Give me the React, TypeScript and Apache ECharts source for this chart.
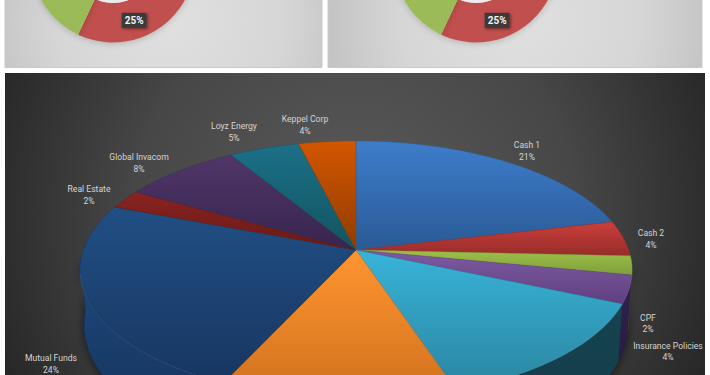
import React, { useEffect, useRef } from "react";
import * as echarts from "echarts";

// Donut fragments at the top (only the red and green slices are in frame)
const donutValues = [32, 25, 18, 25];
const donutColors = ["#4f81bd", "#c0504d", "#9bbb59", "#8064a2"];
const donutLabelIndex = 1;

// Main pie, clockwise from 12 o'clock
const pieNames = ["Cash 1", "Cash 2", "CPF", "Insurance Policies", "", "", "Mutual Funds", "Real Estate", "Global Invacom", "Loyz Energy", "Keppel Corp"];
const pieValues = [21.3, 4.45, 2.35, 3.5, 13.34, 11.96, 24, 2.4, 8.05, 4.8, 3.9];
const topLight = ["#3e7dcb", "#cb3f3b", "#9dc14a", "#7f5aa3", "#38b4d8", "#ff9530", "#214f84", "#8a2420", "#503669", "#1c7088", "#d45600"];
const topDark = ["#2a5a96", "#962c29", "#7f9e3a", "#5e4080", "#2a85a0", "#d0701e", "#173661", "#671917", "#37254e", "#125461", "#8f3c00"];
const wallLight = ["#1d3e68", "#6b1f1d", "#5a7029", "#31214f", "#16434f", "#9a5418", "#1d4a80", "#4a1311", "#281a38", "#0d3a44", "#672b00"];
const wallDark = ["#1d3e68", "#6b1f1d", "#5a7029", "#2a1c44", "#133a48", "#7f4412", "#142f55", "#4a1311", "#281a38", "#0d3a44", "#672b00"];

// Label anchors (layout only)
const labelPos: ([number, number] | null)[] = [[527, 151], [651, 239], [648, 323.5], [668, 351.5], null, null, [51, 364], [89, 195], [139, 163], [234, 132], [305, 125]];

const AX = 356, AY = 250, RX = 272.7, RY = 125.9, K = 0.155;
const WALL = 53, WALL_SX = 0.985, WALL_SY = 1.085;
const FRONT_A = 0.26, FRONT_B = 0.74;
const RIM_A = 0.28, RIM_B = 0.72;

const total = pieValues.reduce((a, b) => a + b, 0);
const startFrac = (i: number) => pieValues.slice(0, i).reduce((a, b) => a + b, 0) / total;

function rim(frac: number, lower = false): [number, number] {
  const t = frac * Math.PI * 2;
  const s = Math.sin(t);
  const v = -Math.cos(t);
  const d = 1 - K * v;
  return [
    AX + (RX * (lower ? WALL_SX : 1) * s) / d,
    AY + (lower ? WALL : 0) + (RY * (lower ? WALL_SY : 1) * v) / d,
  ];
}

function arcPoints(a: number, b: number, lower = false) {
  const n = Math.max(4, Math.ceil((b - a) * 240));
  const pts: [number, number][] = [];
  for (let j = 0; j <= n; j++) pts.push(rim(a + ((b - a) * j) / n, lower));
  return pts;
}

export default function App() {
  const ref = useRef<HTMLDivElement>(null);
  useEffect(() => {
    const chart = echarts.init(ref.current!, undefined, { renderer: "svg" });
    const light = (cx: number, r: number) => new echarts.graphic.RadialGradient(cx, 20, r, [
      { offset: 0, color: "#e0e0e0" }, { offset: 0.6, color: "#d6d6d6" }, { offset: 1, color: "#c2c2c2" },
    ], true);
    const donut = (cx: number) => ({
      type: "pie",
      z: 2,
      center: [cx, -39.5],
      radius: [42.5, 82],
      startAngle: 90,
      clockwise: true,
      avoidLabelOverlap: false,
      silent: true,
      labelLine: { show: false },
      label: { show: false },
      itemStyle: { shadowBlur: 6, shadowColor: "rgba(0,0,0,0.2)", shadowOffsetY: 1 },
      data: donutValues.map((v, i) => ({
        value: v,
        itemStyle: { color: donutColors[i] },
        label: i === donutLabelIndex ? {
          show: true, position: "inside", formatter: "{c}%", color: "#f2f2f2", offset: [-1, -1.5],
          fontFamily: "Roboto", fontWeight: "bold", fontSize: 10, lineHeight: 11,
          backgroundColor: "#3b3b3b", padding: [2, 3, 2, 3],
          shadowBlur: 3, shadowColor: "rgba(0,0,0,0.5)", shadowOffsetX: 1, shadowOffsetY: 1,
        } : { show: false },
      })),
    });
    const hole = (cx: number) => ({
      type: "circle", z: 3, shape: { cx, cy: -39.5, r: 42.5 }, style: { fill: "#ececec" },
    });
    chart.setOption({
      animation: false,
      backgroundColor: "#ffffff",
      graphic: [
        { type: "rect", z: 0, shape: { x: 5, y: -2, width: 317, height: 69.5 }, style: { fill: light(170, 190), stroke: "#c8c8c8", lineWidth: 1 } },
        { type: "rect", z: 0, shape: { x: 328, y: -2, width: 374, height: 69.5 }, style: { fill: light(520, 200), stroke: "#c8c8c8", lineWidth: 1 } },
        hole(113),
        hole(476),
        {
          type: "rect", z: 0, shape: { x: 5, y: 73, width: 700, height: 304 },
          style: { fill: new echarts.graphic.RadialGradient(355, 215, 400, [
            { offset: 0, color: "#5a5a5a" }, { offset: 0.55, color: "#474747" }, { offset: 1, color: "#242424" },
          ], true) },
        },
      ],
      series: [
        donut(113),
        donut(476),
        {
          // soft shadow below the whole front wall
          type: "custom", coordinateSystem: "none", z: 3, silent: true,
          data: [[total]],
          renderItem: () => ({
            type: "polygon",
            shape: { points: [...arcPoints(FRONT_A, FRONT_B), ...arcPoints(FRONT_A, FRONT_B, true).reverse()] },
            style: { fill: "#1a2a40", shadowBlur: 10, shadowColor: "rgba(0,0,0,0.6)", shadowOffsetY: 1 },
          }),
        },
        {
          type: "custom", coordinateSystem: "none", z: 3.5, silent: true,
          data: pieValues.map((v) => [v]),
          renderItem: (p: any) => {
            const i = p.dataIndex;
            const a = Math.max(startFrac(i), FRONT_A), b = Math.min(startFrac(i + 1), FRONT_B);
            if (b <= a) return null;
            return {
              type: "polygon",
              shape: { points: [...arcPoints(a, b), ...arcPoints(a, b, true).reverse()] },
              style: {
                fill: new echarts.graphic.LinearGradient(0, 0, 0, 1, [
                  { offset: 0, color: wallLight[i] }, { offset: 1, color: wallDark[i] },
                ]),
                stroke: wallDark[i], lineWidth: 0.4,
              },
            };
          },
        },
        {
          type: "custom", coordinateSystem: "none", z: 4, silent: true,
          data: pieValues.map((v) => [v]),
          renderItem: (p: any) => {
            const i = p.dataIndex;
            const a = startFrac(i), b = startFrac(i + 1);
            const ra = Math.max(a, RIM_A), rb = Math.min(b, RIM_B);
            const children: any[] = [
              {
                type: "polygon",
                shape: { points: [[AX, AY], ...arcPoints(a, b)] },
                style: {
                  fill: new echarts.graphic.LinearGradient(0, 0, 0, 1, [
                    { offset: 0, color: topLight[i] }, { offset: 1, color: topDark[i] },
                  ]),
                  stroke: topDark[i], lineWidth: 0.4,
                },
              },
            ];
            if (rb > ra) {
              children.push({
                type: "polyline",
                shape: { points: arcPoints(ra, rb) },
                style: { fill: "none", stroke: "rgba(255,255,255,0.13)", lineWidth: 0.8 },
              });
            }
            return { type: "group", children };
          },
        },
        {
          type: "custom", coordinateSystem: "none", z: 5, silent: true,
          data: pieValues.map((v) => [v]),
          renderItem: (p: any, api: any) => {
            const i = p.dataIndex;
            const pos = labelPos[i];
            if (!pos || !pieNames[i]) return null;
            return {
              type: "text",
              style: {
                x: pos[0], y: pos[1], text: `${pieNames[i]}\n${Math.round(api.value(0))}%`,
                fill: "#d4d4d4", font: '8.6px Roboto', lineHeight: 11.5, align: "center", verticalAlign: "middle",
              },
            };
          },
        },
      ],
    });
    return () => chart.dispose();
  }, []);
  return <div ref={ref} style={{ position: "fixed", left: 0, top: 0, width: 710, height: 375 }} />;
}
